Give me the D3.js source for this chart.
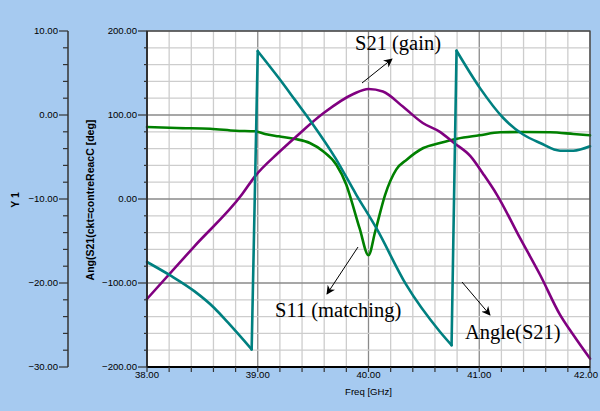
<!DOCTYPE html>
<html><head><meta charset="utf-8">
<script src="https://cdn.jsdelivr.net/npm/d3@7/dist/d3.min.js"></script>
<style>html,body{margin:0;padding:0;background:#A6CAF0;}svg{display:block;}</style>
</head><body>
<svg id="c" width="600" height="411"></svg>
<script>
// ---- data ----
const freqTicks = [38, 39, 40, 41, 42];
const degTicks = [-200, -100, 0, 100, 200];
const dbTicks = [-30, -20, -10, 0, 10];

// Angle(S21) [deg] (teal, right inner axis); phase wraps at 38.95-39.0 and 40.75-40.8 GHz
const angFreq = [38.0, 38.21, 38.43, 38.61, 38.73, 38.945, 39.0, 39.19, 39.336, 39.5, 39.7, 39.89, 40.07, 40.34, 40.645, 40.75, 40.795, 41.007, 41.217, 41.4, 41.55, 41.73, 41.85, 42.0];
const angVal  = [-75, -91, -110, -130, -147, -179, 176, 144, 118, 88.5, 49, 5, -34.5, -102, -158, -174, 176.5, 132, 96.4, 76.5, 66.7, 57.5, 57.5, 62.7];

// S21 gain [dB] (purple, Y1)
const s21Freq = [38.0, 38.43, 38.855, 38.975, 39.186, 39.336, 39.592, 39.863, 40.0, 40.13, 40.31, 40.49, 40.645, 40.77, 40.92, 41.04, 41.16, 41.37, 41.55, 41.73, 41.85, 42.0];
const s21Val  = [-21.9, -15.6, -9.5, -7.3, -4.5, -2.7, 0.2, 2.5, 3.1, 2.8, 1.0, -0.95, -2.0, -3.3, -4.9, -7.1, -9.5, -14.7, -19.05, -23.8, -26.2, -29.0];

// S11 matching [dB] (green, Y1)
const s11Freq = [38.0, 38.27, 38.57, 38.8, 38.975, 39.065, 39.19, 39.34, 39.47, 39.59, 39.71, 39.8, 39.83, 39.92, 40.0, 40.06, 40.15, 40.25, 40.345, 40.495, 40.645, 40.8, 41.0, 41.19, 41.4, 41.64, 41.85, 42.0];
const s11Val  = [-1.43, -1.55, -1.63, -1.87, -1.94, -2.26, -2.54, -2.86, -3.33, -4.32, -5.92, -8.3, -9.5, -13.5, -16.7, -13.9, -9.5, -6.5, -5.32, -3.93, -3.33, -2.82, -2.42, -2.06, -2.02, -2.06, -2.26, -2.42];

// ---- layout ----
const svg = d3.select("#c");
const L = 147, R = 590, T = 31, B = 367;
const x = d3.scaleLinear().domain([38, 42]).range([L, R]);
const yDeg = d3.scaleLinear().domain([-200, 200]).range([B, T]);
const yDb = d3.scaleLinear().domain([-30, 10]).range([B, T]);
const fmt = d3.format(".2f");

svg.append("rect").attr("width", 600).attr("height", 411).attr("fill", "#A6CAF0");
svg.append("rect").attr("x", L).attr("y", T).attr("width", R - L).attr("height", B - T).attr("fill", "#fff");

// grid
const vg = d3.range(0, 21).map(i => 38 + i * 0.2);
const hg = d3.range(0, 21).map(i => -200 + i * 20);
const g = svg.append("g");
vg.forEach((f, i) => {
  g.append("line").attr("x1", x(f)).attr("x2", x(f)).attr("y1", T).attr("y2", B)
   .attr("stroke", i % 5 === 0 ? "#8a8a8a" : "#cdcdcd").attr("stroke-width", 1.3);
});
hg.forEach((d, i) => {
  g.append("line").attr("x1", L).attr("x2", R).attr("y1", yDeg(d)).attr("y2", yDeg(d))
   .attr("stroke", i % 5 === 0 ? "#8a8a8a" : "#cdcdcd").attr("stroke-width", 1.3);
});

// curves
function pts(fs, vs, ys) { return fs.map((f, i) => [x(f), ys(vs[i])]); }
function drawPts(p, color, curve) {
  svg.append("path").attr("d", d3.line().curve(curve)(p))
    .attr("fill", "none").attr("stroke", color).attr("stroke-width", 2.6)
    .attr("stroke-linejoin", "round").attr("stroke-linecap", "round");
}
drawPts(pts(s11Freq, s11Val, yDb), "#008000", d3.curveMonotoneX);
drawPts(pts(s21Freq, s21Val, yDb), "#800080", d3.curveMonotoneX);
// teal: smooth within continuous pieces, straight across the phase wraps
const ap = pts(angFreq, angVal, yDeg);
const breaks = [];
for (let i = 1; i < angVal.length; i++) if (Math.abs(angVal[i] - angVal[i - 1]) > 180) breaks.push(i);
let start = 0;
breaks.concat([ap.length]).forEach(b => {
  drawPts(ap.slice(start, b), "#008080", d3.curveMonotoneX);
  if (b < ap.length) drawPts([ap[b - 1], ap[b]], "#008080", d3.curveLinear);
  start = b;
});

// frame
svg.append("rect").attr("x", L).attr("y", T).attr("width", R - L).attr("height", B - T)
  .attr("fill", "none").attr("stroke", "#404040").attr("stroke-width", 1.2);
svg.append("line").attr("x1", L).attr("x2", R).attr("y1", B).attr("y2", B).attr("stroke", "#000").attr("stroke-width", 2);
svg.append("line").attr("x1", L).attr("x2", L).attr("y1", T).attr("y2", B).attr("stroke", "#202020").attr("stroke-width", 1.5);

const tickFont = "Liberation Sans, Arial, sans-serif";
// inner deg axis
const ga = svg.append("g").attr("font-family", tickFont).attr("font-size", 9.6).attr("fill", "#000");
hg.forEach((d, i) => {
  const major = i % 5 === 0;
  ga.append("line").attr("x1", major ? L - 9 : L - 3).attr("x2", L).attr("y1", yDeg(d)).attr("y2", yDeg(d))
    .attr("stroke", "#333").attr("stroke-width", 1.2);
});
degTicks.forEach(d => {
  ga.append("text").attr("x", L - 10).attr("y", yDeg(d)).attr("dy", "0.35em").attr("text-anchor", "end").text(fmt(d));
});
// outer Y1 axis
const AX = 68;
svg.append("line").attr("x1", AX).attr("x2", AX).attr("y1", yDb(10)).attr("y2", yDb(-30)).attr("stroke", "#333").attr("stroke-width", 1.5);
d3.range(0, 21).map(i => -30 + i * 2).forEach((d, i) => {
  const major = i % 5 === 0;
  ga.append("line").attr("x1", major ? AX - 9 : AX - 5).attr("x2", AX).attr("y1", yDb(d)).attr("y2", yDb(d))
    .attr("stroke", "#333").attr("stroke-width", 1.2);
});
dbTicks.forEach(d => {
  ga.append("text").attr("x", AX - 10).attr("y", yDb(d)).attr("dy", "0.35em").attr("text-anchor", "end").text(fmt(d));
});
// bottom axis
vg.forEach((f, i) => {
  ga.append("line").attr("x1", x(f)).attr("x2", x(f)).attr("y1", B).attr("y2", B + 5)
    .attr("stroke", "#333").attr("stroke-width", 1.2);
});
freqTicks.forEach((f, i) => {
  const last = i === freqTicks.length - 1;
  ga.append("text").attr("x", last ? 598 : x(f)).attr("y", B + 11)
    .attr("text-anchor", last ? "end" : "middle").text(fmt(f));
});
ga.append("text").attr("x", (L + R) / 2).attr("y", 395).attr("text-anchor", "middle").text("Freq [GHz]");

// axis titles
svg.append("text").attr("transform", "translate(94,200) rotate(-90)").attr("text-anchor", "middle")
  .attr("font-family", tickFont).attr("font-weight", "bold").attr("font-size", 10.5).text("Ang(S21(ckt=contreReacC [deg]");
svg.append("text").attr("transform", "translate(19,200) rotate(-90)").attr("text-anchor", "middle")
  .attr("font-family", tickFont).attr("font-weight", "bold").attr("font-size", 10.5).text("Y 1");

// annotations
const defs = svg.append("defs");
defs.append("marker").attr("id", "ah").attr("viewBox", "0 0 10 10").attr("refX", 9).attr("refY", 5)
  .attr("markerWidth", 9).attr("markerHeight", 9).attr("markerUnits", "userSpaceOnUse").attr("orient", "auto")
  .append("path").attr("d", "M0,0 L10,5 L0,10 L3,5 Z").attr("fill", "#000");
const ann = [
  {t: "S21 (gain)", tx: 355, ty: 50, x1: 362, y1: 83, x2: 392, y2: 59},
  {t: "S11 (matching)", tx: 275, ty: 317, x1: 358, y1: 247, x2: 327, y2: 294},
  {t: "Angle(S21)", tx: 465, ty: 339, x1: 462, y1: 282, x2: 490, y2: 315}
];
ann.forEach(a => {
  svg.append("line").attr("x1", a.x1).attr("y1", a.y1).attr("x2", a.x2).attr("y2", a.y2)
    .attr("stroke", "#000").attr("stroke-width", 1).attr("marker-end", "url(#ah)");
  svg.append("text").attr("x", a.tx).attr("y", a.ty).attr("font-family", "Liberation Serif, Times New Roman, serif")
    .attr("font-size", 20.5).attr("fill", "#000").text(a.t);
});
</script>
</body></html>
